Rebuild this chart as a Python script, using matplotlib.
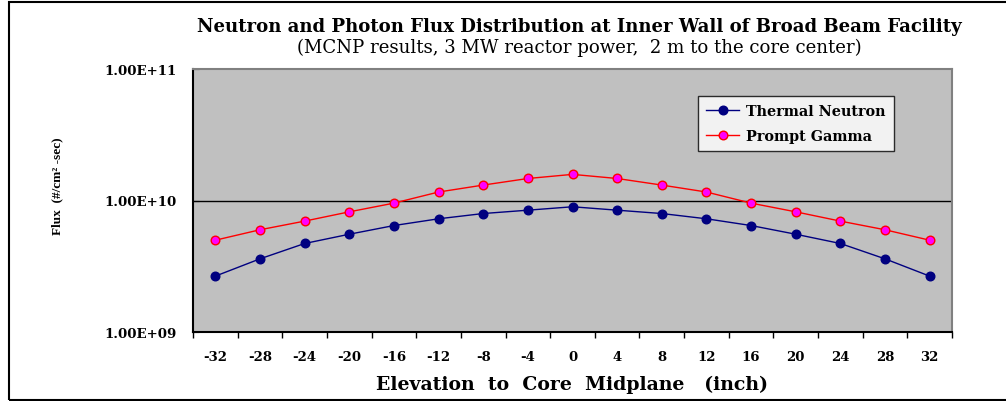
import matplotlib
matplotlib.use("Agg")
import matplotlib.pyplot as plt
from matplotlib.ticker import FixedLocator, FixedFormatter, NullLocator
from matplotlib.patches import Rectangle

elevation = [-32, -28, -24, -20, -16, -12, -8, -4, 0, 4, 8, 12, 16, 20, 24, 28, 32]
thermal_neutron = [2.66e9, 3.6e9, 4.71e9, 5.54e9, 6.45e9, 7.26e9, 7.96e9, 8.44e9, 8.96e9,
                   8.44e9, 7.96e9, 7.26e9, 6.45e9, 5.54e9, 4.71e9, 3.6e9, 2.66e9]
prompt_gamma = [4.99e9, 5.99e9, 6.97e9, 8.2e9, 9.55e9, 1.16e10, 1.31e10, 1.47e10, 1.58e10,
                1.47e10, 1.31e10, 1.16e10, 9.55e9, 8.2e9, 6.97e9, 5.99e9, 4.99e9]
y_ticks = [1e9, 1e10, 1e11]
y_tick_labels = ["1.00E+09", "1.00E+10", "1.00E+11"]

WIDE = ['DejaVu Serif']
plt.rcParams['font.family'] = WIDE

fig = plt.figure(figsize=(10.06, 4.02), dpi=100)
W, H = 1006, 402
ax = fig.add_axes([193 / W, 1 - 333 / H, (952 - 193) / W, (333 - 70) / H])
ax.set_facecolor('#C0C0C0')

idx = list(range(len(elevation)))
ax.plot(idx, thermal_neutron, color='#000080', lw=1.0, marker='o', ms=6.2,
        mfc='#000080', mec='#000080', label='Thermal Neutron', zorder=3)
ax.plot(idx, prompt_gamma, color='#FF0000', lw=1.0, marker='o', ms=6.2,
        mfc='#FF00FF', mec='#FF0000', mew=1.0, label='Prompt Gamma', zorder=3)

ax.set_yscale('log')
ax.set_ylim(1e9, 1e11)
ax.set_xlim(-0.5, len(elevation) - 0.5)
ax.yaxis.set_major_locator(FixedLocator(y_ticks))
ax.yaxis.set_major_formatter(FixedFormatter(y_tick_labels))
ax.yaxis.set_minor_locator(NullLocator())
ax.axhline(1e10, color='black', lw=1.0, zorder=1)

ax.xaxis.set_major_locator(FixedLocator(idx))
ax.xaxis.set_major_formatter(FixedFormatter([str(v) for v in elevation]))
ax.xaxis.set_minor_locator(FixedLocator([i - 0.5 for i in range(len(elevation) + 1)]))
ax.tick_params(axis='x', which='major', length=0, pad=13, labelsize=9.5)
ax.tick_params(axis='x', which='minor', length=4, direction='out', width=1)
ax.tick_params(axis='y', which='major', length=4, direction='in', pad=11.5, labelsize=9.6)
for lab in ax.get_xticklabels() + ax.get_yticklabels():
    lab.set_fontweight('bold')

for s in ['top', 'right']:
    ax.spines[s].set_color('#808080')
    ax.spines[s].set_linewidth(1.5)
for s in ['left', 'bottom']:
    ax.spines[s].set_color('black')
    ax.spines[s].set_linewidth(1.5)

fig.text(572 / W, 1 - 385 / H, 'Elevation  to  Core  Midplane   (inch)',
         ha='center', va='center', fontsize=13.6, fontweight='bold')
fig.text(57 / W, 1 - 186 / H, 'Flux  (#/cm\u00b2 -sec)', rotation=90,
         ha='center', va='center', fontsize=9.5, fontweight='bold', family=['Liberation Serif'])

leg = ax.legend(loc='upper left', bbox_to_anchor=((698 - 193) / (952 - 193), 1 - (97 - 70) / (333 - 70)),
                frameon=True, fancybox=False, edgecolor='black', facecolor='white',
                prop={'weight': 'bold', 'size': 10.4, 'family': WIDE}, borderpad=0.55, labelspacing=0.75,
                handlelength=2.3, handletextpad=0.5, borderaxespad=0)
leg.get_frame().set_linewidth(1.0)

fig.text(579 / W, 1 - 27 / H, 'Neutron and Photon Flux Distribution at Inner Wall of Broad Beam Facility',
         ha='center', va='center', fontsize=13.1, fontweight='bold')
fig.text(579 / W, 1 - 48 / H, '(MCNP results, 3 MW reactor power,  2 m to the core center)',
         ha='center', va='center', fontsize=13.1)

fig.patches.append(Rectangle((9 / W, 1 / H), (1100 - 9) / W, (400 - 2) / H, transform=fig.transFigure,
                             fill=False, edgecolor='black', lw=1.5))

fig.savefig('out.png', dpi=100)
